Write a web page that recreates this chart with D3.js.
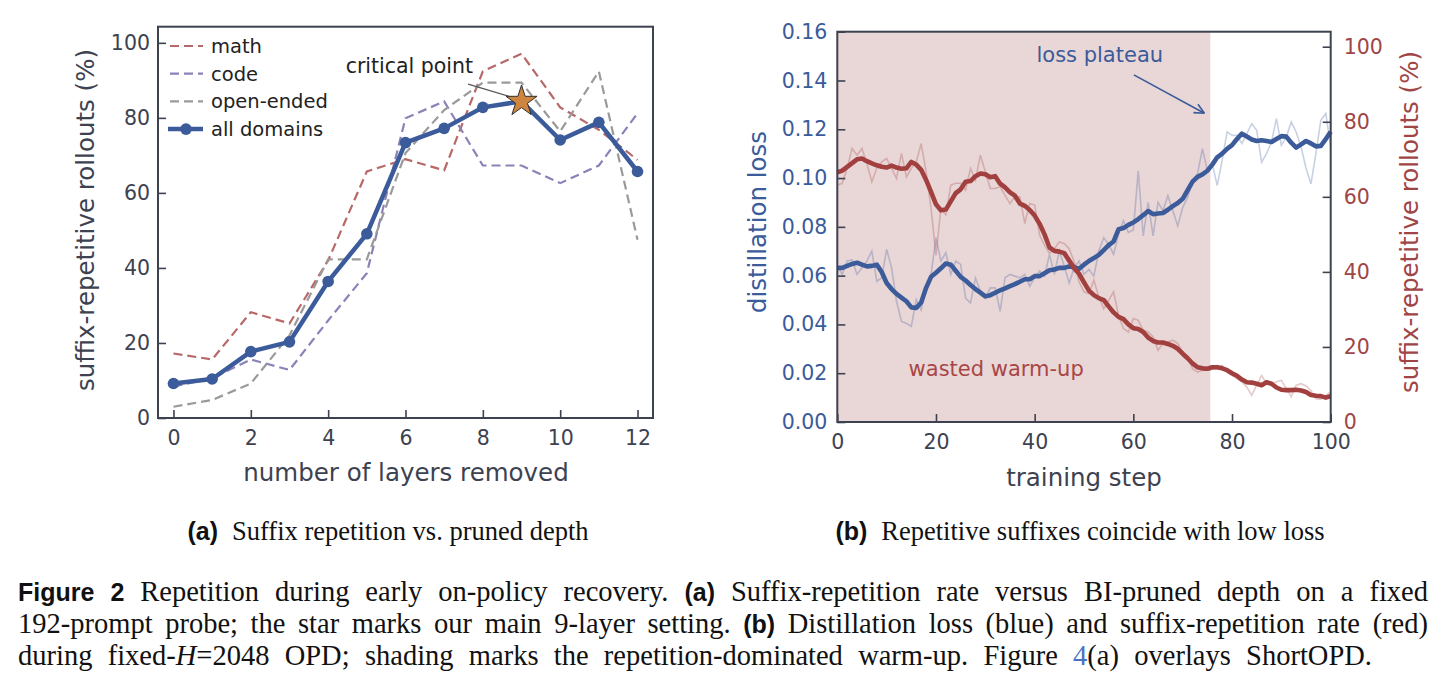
<!DOCTYPE html>
<html>
<head>
<meta charset="utf-8">
<script src="https://cdn.jsdelivr.net/npm/d3@7"></script>
<style>
  body { margin: 0; background: #fff; }
  text { font-family: "DejaVu Sans", sans-serif; }
</style>
</head>
<body>
<svg id="fig" width="1446" height="689"></svg>
<script>
// ---- panel (a): suffix repetition vs. layers removed ----
var layers = [0, 1, 2, 3, 4, 5, 6, 7, 8, 9, 10, 11, 12];
var mathRep = [17.2, 15.6, 28.2, 25.2, 42.0, 65.7, 69.0, 66.0, 92.4, 97.1, 82.8, 76.8, 68.8];
var codeRep = [8.4, 10.6, 15.6, 12.8, 26.0, 38.6, 79.9, 84.4, 67.3, 67.3, 62.6, 67.3, 81.2];
var openRep = [3.0, 4.8, 9.2, 22.0, 42.3, 42.3, 70.6, 82.1, 89.4, 89.4, 76.4, 92.4, 47.5];
var allRep  = [9.2, 10.4, 17.7, 20.3, 36.4, 49.1, 73.4, 77.2, 82.8, 84.4, 74.1, 78.8, 65.7];
var criticalLayer = 9;
var layerTicks = [0, 2, 4, 6, 8, 10, 12];
var repTicksA = [0, 20, 40, 60, 80, 100];

// ---- panel (b): training dynamics ----
var steps = d3.range(0, 101);
var lossRaw = [0.064, 0.0605, 0.066, 0.0664, 0.0605, 0.0632, 0.066, 0.0701, 0.0577, 0.0591,
  0.0708, 0.0632, 0.0495, 0.0412, 0.0405, 0.0392, 0.0502, 0.046, 0.0557, 0.0605,
  0.0756, 0.066, 0.0694, 0.0605, 0.066, 0.0646, 0.0508, 0.0488, 0.0591, 0.0536,
  0.0508, 0.055, 0.055, 0.0454, 0.0591, 0.0605, 0.0598, 0.0591, 0.0605, 0.0557,
  0.0591, 0.0619, 0.0598, 0.0687, 0.0605, 0.0701, 0.0639, 0.057, 0.0632, 0.066,
  0.0605, 0.0625, 0.0598, 0.0701, 0.0756, 0.0728, 0.0687, 0.077, 0.0825, 0.0777,
  0.0787, 0.103, 0.0763, 0.09, 0.0763, 0.09, 0.0866, 0.0928, 0.0866, 0.0804,
  0.088, 0.0921, 0.099, 0.1017, 0.112, 0.1031, 0.1058, 0.0969, 0.1072, 0.1189,
  0.1175, 0.1175, 0.1141, 0.1182, 0.1223, 0.1196, 0.1065, 0.11, 0.1148, 0.1244,
  0.1134, 0.1168, 0.123, 0.1189, 0.1127, 0.104, 0.0976, 0.11, 0.1237, 0.1265, 0.1127];
var lossSmooth = [0.0632, 0.0632, 0.064, 0.0648, 0.0653, 0.0645, 0.0638, 0.064, 0.0645, 0.0615,
  0.057, 0.0545, 0.0525, 0.051, 0.0495, 0.047, 0.0468, 0.049, 0.055, 0.0595,
  0.0612, 0.063, 0.065, 0.0645, 0.062, 0.0595, 0.058, 0.0562, 0.0545, 0.053,
  0.0515, 0.052, 0.053, 0.054, 0.0548, 0.0557, 0.0565, 0.0575, 0.0585, 0.0585,
  0.0598, 0.0598, 0.061, 0.0622, 0.0625, 0.0632, 0.0632, 0.0638, 0.0635, 0.0628,
  0.0645, 0.066, 0.0672, 0.0685, 0.0705, 0.0725, 0.074, 0.079, 0.0795, 0.0808,
  0.0818, 0.0832, 0.0848, 0.0865, 0.0852, 0.0855, 0.0857, 0.087, 0.0885, 0.0898,
  0.0915, 0.095, 0.0985, 0.1005, 0.1015, 0.103, 0.1055, 0.1085, 0.11, 0.112,
  0.1135, 0.116, 0.1182, 0.117, 0.1158, 0.1152, 0.1155, 0.1152, 0.1148, 0.116,
  0.1172, 0.117, 0.1145, 0.1125, 0.1138, 0.1152, 0.1142, 0.113, 0.1132, 0.116, 0.119];
var repRaw = [63.1, 63.6, 67.6, 72.9, 71.1, 72.9, 68.9, 64.0, 67.6, 69.3,
  70.2, 67.6, 64.9, 71.6, 65.3, 67.6, 69.3, 74.2, 66.7, 56.9,
  44.4, 56.9, 55.2, 63.1, 63.6, 63.6, 61.8, 67.6, 64.4, 71.1,
  66.7, 62.2, 62.2, 62.7, 60.4, 58.2, 60.0, 60.0, 52.9, 58.2,
  57.8, 49.8, 47.1, 44.9, 46.2, 48.0, 47.6, 46.2, 42.7, 37.3,
  34.7, 34.2, 37.8, 33.3, 30.2, 32.4, 34.7, 28.4, 24.9, 24.0,
  27.6, 27.1, 24.4, 24.0, 22.7, 19.1, 20.9, 21.3, 21.8, 20.9,
  18.7, 17.3, 14.2, 13.3, 13.8, 13.8, 14.0, 14.2, 15.1, 13.3,
  12.4, 11.6, 10.7, 9.3, 7.1, 9.8, 12.4, 10.2, 10.2, 10.7,
  11.1, 8.9, 6.7, 9.8, 10.2, 9.6, 8.4, 6.2, 6.0, 7.1, 8.0];
var repSmooth = [66.5, 67.0, 68.0, 69.0, 70.0, 70.2, 69.5, 68.9, 68.4, 68.0,
  67.8, 68.3, 67.8, 67.5, 67.6, 69.3, 68.6, 67.2, 64.5, 61.3,
  58.0, 56.4, 56.6, 58.8, 61.0, 62.0, 64.0, 64.2, 65.5, 66.2,
  66.0, 65.2, 65.5, 63.5, 62.5, 61.2, 60.3, 58.2, 57.6, 56.5,
  55.0, 52.8, 50.0, 46.5, 45.6, 45.4, 45.0, 43.0, 41.0, 39.5,
  37.2, 35.0, 33.8, 33.0, 32.5, 30.8, 29.2, 28.0, 27.4, 26.0,
  25.0, 24.8, 24.0, 22.5, 21.6, 21.2, 21.2, 20.8, 20.3, 19.5,
  18.2, 17.0, 15.6, 14.6, 14.3, 14.2, 14.6, 14.6, 14.3, 13.8,
  13.0, 12.3, 11.3, 10.6, 10.5, 10.2, 9.8, 10.6, 10.2, 9.2,
  8.6, 8.5, 8.5, 8.6, 8.4, 8.0, 7.2, 7.0, 6.9, 6.5, 6.9];
var warmupEnd = 75.6;
var stepTicks = [0, 20, 40, 60, 80, 100];
var lossTicks = [0, 0.02, 0.04, 0.06, 0.08, 0.10, 0.12, 0.14, 0.16];
var repTicksB = [0, 20, 40, 60, 80, 100];

var blue = "#3b5b9a", red = "#a23f3f", ink = "#3d4250";

var svg = d3.select("#fig");

function box(g, x0, y0, x1, y1) {
  g.append("rect").attr("x", x0).attr("y", y0)
    .attr("width", x1 - x0).attr("height", y1 - y0)
    .attr("fill", "none").attr("stroke", ink).attr("stroke-width", 2);
}
function styleAxis(sel, color) {
  sel.select(".domain").remove();
  sel.selectAll(".tick line").attr("stroke", ink).attr("stroke-width", 1.6);
  sel.selectAll(".tick text").attr("fill", color).attr("font-size", 20.5)
    .attr("font-family", "DejaVu Sans");
}

// ================= panel (a) =================
var ax = d3.scaleLinear().domain([-0.4, 12.4]).range([158, 653]);
var ay = d3.scaleLinear().domain([0, 104.3]).range([418, 26.7]);
var ga = svg.append("g");

var lineA = function(vals) {
  return d3.line().x(function(d, i) { return ax(layers[i]); }).y(function(d) { return ay(d); })(vals);
};

var domains = [
  {name: "math", vals: mathRep, color: "#b86868"},
  {name: "code", vals: codeRep, color: "#8b82b8"},
  {name: "open-ended", vals: openRep, color: "#9a9a9a"}
];
domains.forEach(function(s) {
  ga.append("path").attr("d", lineA(s.vals)).attr("fill", "none")
    .attr("stroke", s.color).attr("stroke-width", 2.2).attr("stroke-dasharray", "9,5");
});
ga.append("path").attr("d", lineA(allRep)).attr("fill", "none")
  .attr("stroke", blue).attr("stroke-width", 4.5).attr("stroke-linejoin", "round");
ga.selectAll("circle.pt").data(allRep).enter().append("circle")
  .attr("cx", function(d, i) { return ax(layers[i]); })
  .attr("cy", function(d) { return ay(d); })
  .attr("r", 5.8).attr("fill", blue);

// critical point annotation
var ci = layers.indexOf(criticalLayer);
ga.append("line")
  .attr("x1", ax(7.62)).attr("y1", ay(89.0))
  .attr("x2", ax(8.75)).attr("y2", ay(85.5))
  .attr("stroke", "#555").attr("stroke-width", 1.2);
ga.append("path")
  .attr("d", d3.symbol(d3.symbolStar).size(300)())
  .attr("transform", "translate(" + ax(criticalLayer) + "," + ay(allRep[ci]) + ")")
  .attr("fill", "#cd853f").attr("stroke", "#2f2f2f").attr("stroke-width", 1);
ga.append("text").attr("x", ax(6.1)).attr("y", ay(93.9)).attr("dy", "0.35em")
  .attr("text-anchor", "middle").attr("font-size", 20.5).attr("fill", "#222")
  .text("critical point");

var axisA = ga.append("g").attr("transform", "translate(0,418)")
  .call(d3.axisBottom(ax).tickValues(layerTicks).tickSizeInner(-8).tickSizeOuter(0).tickPadding(12));
styleAxis(axisA, ink);
var axisAy = ga.append("g").attr("transform", "translate(158,0)")
  .call(d3.axisLeft(ay).tickValues(repTicksA).tickSizeInner(-8).tickSizeOuter(0).tickPadding(8));
styleAxis(axisAy, ink);
box(ga, 158, 26.7, 653, 418);

ga.append("text").attr("x", 406).attr("y", 472).attr("dy", "0.35em")
  .attr("text-anchor", "middle").attr("font-size", 24.5).attr("fill", ink)
  .text("number of layers removed");
ga.append("text").attr("transform", "translate(85,220) rotate(-90)").attr("dy", "0.35em")
  .attr("text-anchor", "middle").attr("font-size", 24.5).attr("fill", ink)
  .text("suffix-repetitive rollouts (%)");

// legend
var legItems = domains.concat([{name: "all domains", color: blue, solid: true}]);
var leg = ga.append("g").attr("transform", "translate(168,46)");
legItems.forEach(function(s, i) {
  var row = leg.append("g").attr("transform", "translate(0," + (i * 27.7) + ")");
  if (s.solid) {
    row.append("line").attr("x1", 0).attr("x2", 35).attr("stroke", s.color).attr("stroke-width", 4.5);
    row.append("circle").attr("cx", 18).attr("r", 5.8).attr("fill", s.color);
  } else {
    row.append("line").attr("x1", 2).attr("x2", 35).attr("stroke", s.color)
      .attr("stroke-width", 2.2).attr("stroke-dasharray", "9,5");
  }
  row.append("text").attr("x", 43).attr("dy", "0.35em").attr("font-size", 19.5)
    .attr("fill", "#222").text(s.name);
});

// ================= panel (b) =================
var bx = d3.scaleLinear().domain([0, 100]).range([837.3, 1330.7]);
var byL = d3.scaleLinear().domain([0, 0.16]).range([422, 31.7]);
var byR = d3.scaleLinear().domain([0, 104]).range([422, 31.7]);
var gb = svg.append("g");

gb.append("rect").attr("x", bx(0)).attr("y", byL(0.16))
  .attr("width", bx(warmupEnd) - bx(0)).attr("height", byL(0) - byL(0.16))
  .attr("fill", "#e9d6d6");

var lineL = d3.line().x(function(d, i) { return bx(steps[i]); }).y(function(d) { return byL(d); });
var lineR = d3.line().x(function(d, i) { return bx(steps[i]); }).y(function(d) { return byR(d); });

gb.append("path").attr("d", lineL(lossRaw)).attr("fill", "none")
  .attr("stroke", blue).attr("stroke-opacity", 0.28).attr("stroke-width", 1.6);
gb.append("path").attr("d", lineL(lossSmooth)).attr("fill", "none")
  .attr("stroke", blue).attr("stroke-width", 4.6).attr("stroke-linejoin", "round");
gb.append("path").attr("d", lineR(repRaw)).attr("fill", "none")
  .attr("stroke", red).attr("stroke-opacity", 0.28).attr("stroke-width", 1.6);
gb.append("path").attr("d", lineR(repSmooth)).attr("fill", "none")
  .attr("stroke", red).attr("stroke-width", 4.6).attr("stroke-linejoin", "round");

// annotations
gb.append("text").attr("x", bx(53.2)).attr("y", byL(0.1505)).attr("dy", "0.35em")
  .attr("text-anchor", "middle").attr("font-size", 21).attr("fill", blue).text("loss plateau");
var a0 = [bx(60.1), byL(0.1423)], a1 = [bx(74.4), byL(0.1266)];
gb.append("line").attr("x1", a0[0]).attr("y1", a0[1]).attr("x2", a1[0]).attr("y2", a1[1])
  .attr("stroke", blue).attr("stroke-width", 1.6);
var ang = Math.atan2(a1[1] - a0[1], a1[0] - a0[0]);
[0.45, -0.45].forEach(function(da) {
  gb.append("line").attr("x1", a1[0]).attr("y1", a1[1])
    .attr("x2", a1[0] - 11 * Math.cos(ang + da)).attr("y2", a1[1] - 11 * Math.sin(ang + da))
    .attr("stroke", blue).attr("stroke-width", 1.6);
});
gb.append("text").attr("x", bx(32.2)).attr("y", byL(0.0218)).attr("dy", "0.35em")
  .attr("text-anchor", "middle").attr("font-size", 21).attr("fill", "#a84646").text("wasted warm-up");

var axisB = gb.append("g").attr("transform", "translate(0,422)")
  .call(d3.axisBottom(bx).tickValues(stepTicks).tickSizeInner(-8).tickSizeOuter(0).tickPadding(12.5));
styleAxis(axisB, ink);
var axisBL = gb.append("g").attr("transform", "translate(837.3,0)")
  .call(d3.axisLeft(byL).tickValues(lossTicks).tickFormat(d3.format(".2f"))
    .tickSizeInner(-8).tickSizeOuter(0).tickPadding(10));
styleAxis(axisBL, blue);
var axisBR = gb.append("g").attr("transform", "translate(1330.7,0)")
  .call(d3.axisRight(byR).tickValues(repTicksB).tickSizeInner(-8).tickSizeOuter(0).tickPadding(13));
styleAxis(axisBR, "#a04545");
box(gb, 837.3, 31.7, 1330.7, 422);

gb.append("text").attr("x", 1084).attr("y", 477).attr("dy", "0.35em")
  .attr("text-anchor", "middle").attr("font-size", 24.5).attr("fill", ink).text("training step");
gb.append("text").attr("transform", "translate(757,222) rotate(-90)").attr("dy", "0.35em")
  .attr("text-anchor", "middle").attr("font-size", 24.5).attr("fill", blue).text("distillation loss");
gb.append("text").attr("transform", "translate(1409,222) rotate(-90)").attr("dy", "0.35em")
  .attr("text-anchor", "middle").attr("font-size", 24.5).attr("fill", "#a04545")
  .text("suffix-repetitive rollouts (%)");

// ================= captions =================
var serif = "'Liberation Serif', 'DejaVu Serif', serif";
var boldSans = "'Liberation Sans', 'DejaVu Sans', sans-serif";
function styleSpan(sp, s, size) {
  if (s === "b") sp.attr("font-family", boldSans).attr("font-weight", "bold").attr("font-size", 25);
  else {
    sp.attr("font-family", serif).attr("font-size", size);
    if (s === "i") sp.attr("font-style", "italic");
    if (s === "l") sp.attr("fill", "#4a72c4");
  }
}

var subCaps = [
  {cx: 388, parts: [{t: "(a)", s: "b"}, {t: "Suffix repetition vs. pruned depth", s: "r"}]},
  {cx: 1080, parts: [{t: "(b)", s: "b"}, {t: "Repetitive suffixes coincide with low loss", s: "r"}]}
];
subCaps.forEach(function(c) {
  var t = svg.append("text").attr("y", 540).attr("fill", "#111").attr("text-anchor", "middle").attr("x", c.cx);
  c.parts.forEach(function(p, i) {
    var sp = t.append("tspan").attr("dx", i ? 14 : 0).text(p.t);
    styleSpan(sp, p.s, 26.5);
  });
});

var capLines = [
  {y: 601, x1: 1428, parts: [{t: "Figure 2", s: "b"}, {t: " Repetition during early on-policy recovery. ", s: "r"},
    {t: "(a)", s: "b"}, {t: " Suffix-repetition rate versus BI-pruned depth on a fixed", s: "r"}]},
  {y: 633, x1: 1428, parts: [{t: "192-prompt probe; the star marks our main 9-layer setting. ", s: "r"},
    {t: "(b)", s: "b"}, {t: " Distillation loss (blue) and suffix-repetition rate (red)", s: "r"}]},
  {y: 665, x1: 1372, parts: [{t: "during fixed-", s: "r"}, {t: "H", s: "i"},
    {t: "=2048 OPD; shading marks the repetition-dominated warm-up. Figure ", s: "r"},
    {t: "4", s: "l"}, {t: "(a) overlays ShortOPD.", s: "r"}]}
];
capLines.forEach(function(line) {
  var tokens = [], cur = null;
  line.parts.forEach(function(seg) {
    seg.t.split(" ").forEach(function(w, i) {
      if (i > 0 && cur) { tokens.push(cur); cur = null; }
      if (w) { cur = cur || []; cur.push({t: w, s: seg.s}); }
    });
  });
  if (cur) tokens.push(cur);
  var nodes = tokens.map(function(tok) {
    var t = svg.append("text").attr("y", line.y).attr("fill", "#111");
    tok.forEach(function(p) { styleSpan(t.append("tspan").text(p.t), p.s, 28.5); });
    return t;
  });
  var widths = nodes.map(function(n) { return n.node().getComputedTextLength(); });
  var gap = (line.x1 - 18 - d3.sum(widths)) / (nodes.length - 1);
  var x = 18;
  nodes.forEach(function(n, i) { n.attr("x", x); x += widths[i] + gap; });
});
</script>
</body>
</html>
